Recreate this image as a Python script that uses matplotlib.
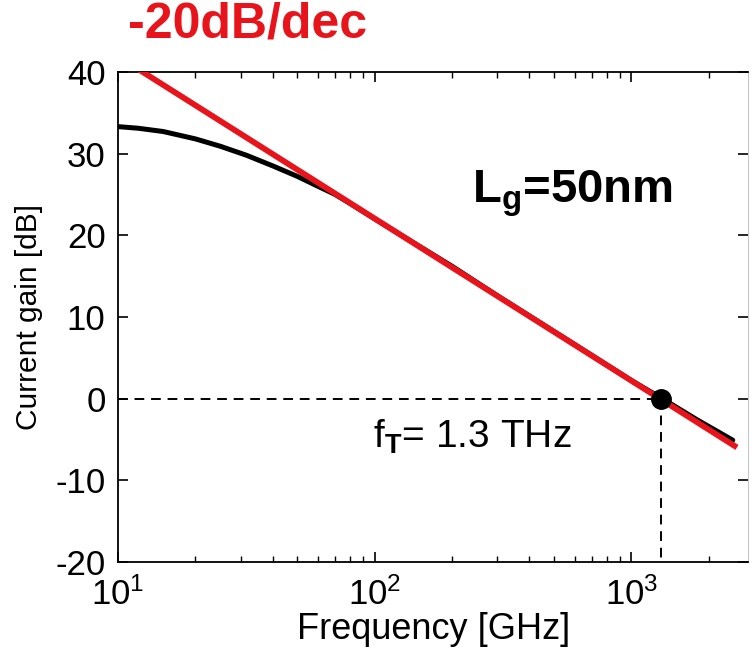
"""Current gain vs frequency, Lg=50nm device with -20 dB/dec asymptote."""

import matplotlib

matplotlib.use("Agg")

import matplotlib.pyplot as plt
from matplotlib.ticker import FixedLocator, LogLocator, NullFormatter

plt.rcParams["font.family"] = ["Liberation Sans", "DejaVu Sans"]
plt.rcParams["mathtext.fontset"] = "custom"
plt.rcParams["mathtext.rm"] = "Liberation Sans"
plt.rcParams["mathtext.it"] = "Liberation Sans:italic"
plt.rcParams["mathtext.bf"] = "Liberation Sans:bold"
plt.rcParams["axes.unicode_minus"] = False

freq_meas = [10, 12, 15, 20, 25, 31.6, 40, 50, 60, 70, 80, 100,
             150, 200, 300, 500, 700, 1000, 1300, 1800, 2480]
gain_meas = [33.3, 33.1, 32.7, 31.8, 30.9, 29.8, 28.5, 27.2, 26.0, 25.0, 23.9, 22.0,
             18.6, 16.2, 12.6, 8.2, 5.3, 2.2, 0.1, -2.6, -5.1]

# -20 dB/dec asymptote (red line) end points
freq_fit = [10, 2520]
gain_fit = [41.9, -5.8]

# unity-gain crossing
f_t = 1300
y_ticks = [-20, -10, 0, 10, 20, 30, 40]


def main() -> None:
    fig = plt.figure(figsize=(7.52, 6.48), dpi=100)
    ax = fig.add_axes([0.157, 0.133, 0.838, 0.756])

    ax.plot([10, f_t], [0, 0], color="black", lw=1.4, dashes=(5, 3.5), zorder=1)
    ax.plot([f_t, f_t], [0, -20], color="black", lw=1.4, dashes=(5, 3.5), zorder=1)
    ax.plot(freq_meas, gain_meas, color="black", lw=3.6, zorder=2,
            solid_capstyle="round", solid_joinstyle="round")
    ax.plot(freq_fit, gain_fit, color="#e8141b", lw=4.2, zorder=3)
    ax.plot([f_t], [0], "o", color="black", ms=14, zorder=4)

    ax.set_xscale("log")
    ax.set_xlim(10, 2850)
    ax.set_ylim(-20, 40)
    ax.yaxis.set_major_locator(FixedLocator(y_ticks))
    ax.xaxis.set_major_locator(LogLocator(base=10))
    ax.xaxis.set_minor_locator(LogLocator(base=10, subs=range(2, 10)))
    ax.xaxis.set_minor_formatter(NullFormatter())

    ax.tick_params(which="both", direction="in", top=True, right=True, labelsize=25)
    ax.tick_params(axis="y", pad=9)
    ax.tick_params(axis="x", pad=11)
    ax.tick_params(which="major", length=7, width=1.2)
    ax.tick_params(which="minor", length=4, width=1.0)
    for side in ("left", "bottom", "top"):
        ax.spines[side].set_linewidth(1.3)
    ax.spines["right"].set_color("#c8c8c8")

    ax.set_xlabel("Frequency [GHz]", fontsize=26, labelpad=0)
    ax.set_ylabel("Current gain [dB]", fontsize=21.5, labelpad=9)

    fig.text(0.17, 0.962, "-20dB/dec", color="#e8141b", fontsize=36,
             fontweight="bold", va="center", ha="left")
    ax.text(0.562, 0.734, r"$\mathbf{L_{g}}$=50nm", transform=ax.transAxes,
            fontsize=34, fontweight="bold", va="baseline", ha="left")
    ax.text(0.405, 0.233, r"f$_{\mathbf{T}}$= 1.3 THz", transform=ax.transAxes,
            fontsize=28, va="baseline", ha="left")

    fig.savefig("out.png", dpi=100)
    plt.close(fig)


if __name__ == "__main__":
    main()
